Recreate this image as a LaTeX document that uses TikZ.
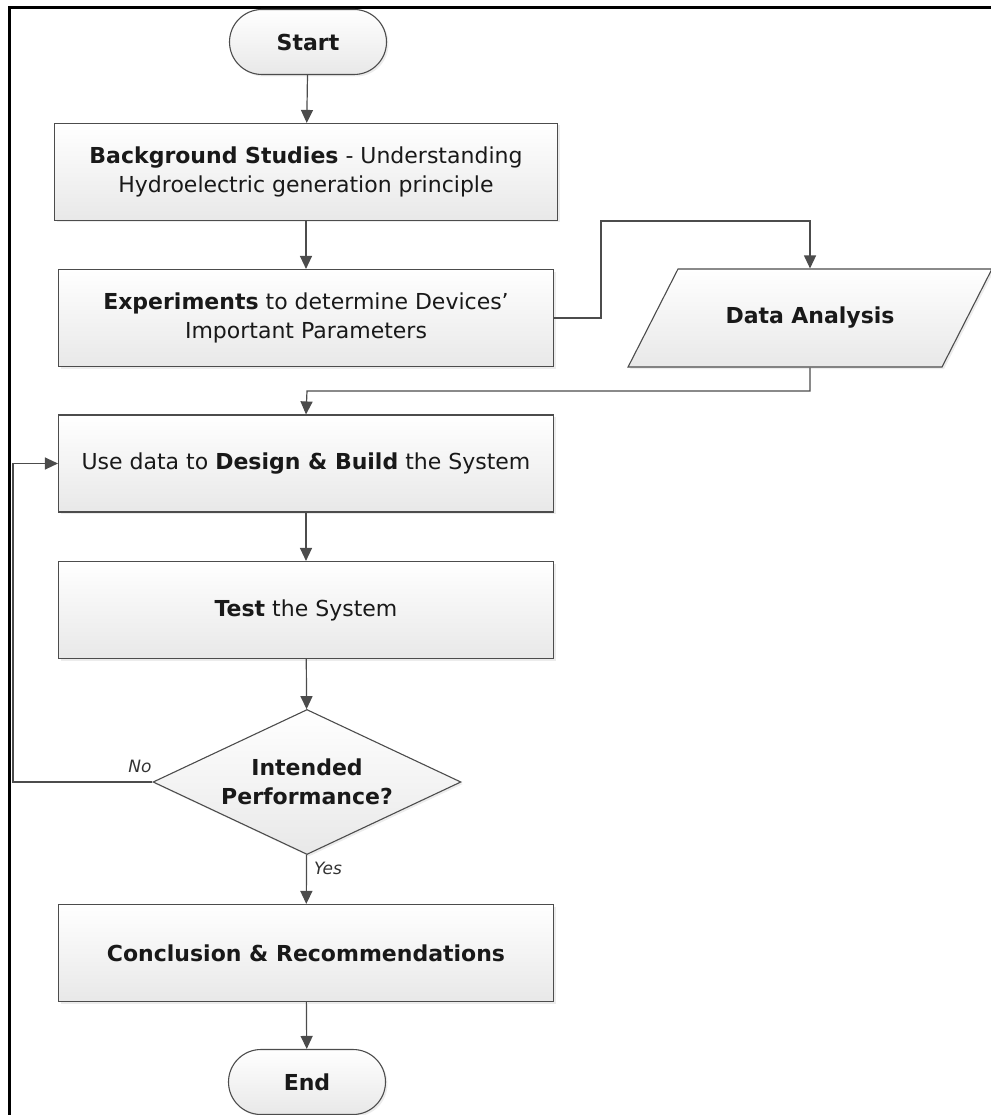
\documentclass[tikz,border=0pt]{standalone}
\usepackage{fontspec}
\setmainfont{DejaVu Sans}
\usetikzlibrary{arrows.meta,shapes.misc,shapes.geometric,shadows}

\begin{document}
\begin{tikzpicture}[->,>={Triangle[length=13pt,width=12pt]},x=1pt,y=-1pt,
  line width=1.2pt,draw=black!70,
  main node/.style={rectangle,draw=black!70,line width=1.1pt,top color=white,
    bottom color=black!9,drop shadow={fill=black!15,shadow xshift=2pt,shadow yshift=-2pt},
    minimum width=495pt,minimum height=97pt,inner sep=0pt,align=center,
    text=black!90,font=\fontsize{22}{29}\selectfont},
  term node/.style={main node,rounded rectangle,minimum width=157pt,minimum height=65pt,
    font=\bfseries\fontsize{22}{29}\selectfont},
  io node/.style={main node,trapezium,trapezium left angle=63,trapezium right angle=117,
    minimum width=0pt,minimum height=0pt,text width=174pt,text height=16pt,text depth=6pt,
    inner xsep=45pt,inner ysep=38pt,font=\bfseries\fontsize{22}{29}\selectfont},
  test node/.style={main node,diamond,aspect=2.12,minimum width=308pt,minimum height=145pt,
    font=\bfseries\fontsize{22}{29}\selectfont},
  label node/.style={text=black!80,font=\itshape\fontsize{17}{20}\selectfont}]

\useasboundingbox (0,0) rectangle (990,1115);

% frame
\draw[-,draw=black,line width=3pt] (9,1116) -- (9,8) -- (991,8);

% main column
  \node[term node] (start) at (308,42) {Start};
  \node[main node,minimum width=503pt] (bg) at (306,172)
    {\textbf{Background Studies} - Understanding\\ Hydroelectric generation principle};
  \node[main node] (exp) at (306,318)
    {\textbf{Experiments} to determine Devices’\\ Important Parameters};
  \node[io node] (data) at (810,318) {Data Analysis};
  \node[main node] (use) at (306,463.5) {Use data to \textbf{Design \& Build} the System};
  \node[main node] (test) at (306,610) {\textbf{Test} the System};
  \node[test node] (dec) at (307,782) {Intended\\ Performance?};
  \node[main node] (concl) at (306,953) {\textbf{Conclusion \& Recommendations}};
  \node[term node] (end) at (307,1082) {End};

  \path
    (start) edge (bg)
    (bg) edge (exp)
    (use) edge (test)
    (test) edge (dec)
    (dec) edge (concl)
    (concl) edge (end);

% side branch to data analysis
  \coordinate (up) at (601,221);
  \coordinate (back) at (307,391);
  \draw (exp.east) -| (up) -| (data.north);
  \draw (data.south) |- (back) -- (use.north);

% loop back when not ok
  \coordinate (left) at (13,620);
  \draw (dec.west) -| (left) |- (use.west);

  \node[label node] (no) at (140,766) {No};
  \node[label node] (yes) at (328,868) {Yes};

\end{tikzpicture}
\end{document}
